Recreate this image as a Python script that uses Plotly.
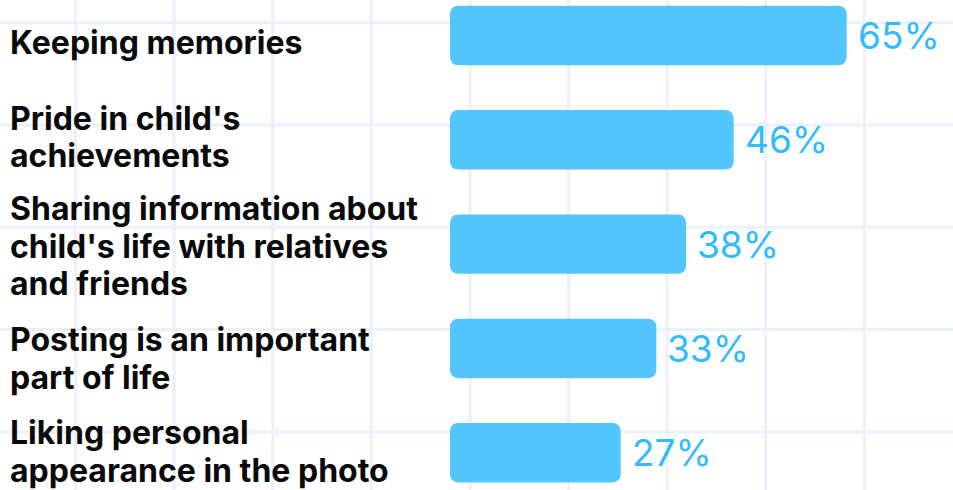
import plotly.graph_objects as go

# Survey: reasons parents post photos of their children
categories = [
    "Keeping memories",
    "Pride in child's<br>achievements",
    "Sharing information about<br>child's life with relatives<br>and friends",
    "Posting is an important<br>part of life",
    "Liking personal<br>appearance in the photo",
]
values = [65, 46, 38, 33, 27]
value_labels = ["65%", "46%", "38%", "33%", "27%"]

W, H = 953, 490
BAR_COLOR = "#53C6FF"
LABEL_COLOR = "#33BBFF"
GRID_COLOR = "#EAF1FC"
BAR_BASE = -1.7          # bars start slightly left of the zero point
LINE_PITCH = 37.5        # px between lines of a category label

# fine vertical nudges of the category text blocks (px, positive = up)
label_shift = [-7, 3, -2, -10, 1]

positions = list(range(len(values)))

fig = go.Figure(
    go.Bar(
        x=[v - BAR_BASE for v in values],
        y=positions,
        orientation="h",
        base=BAR_BASE,
        width=0.57,
        marker=dict(color=BAR_COLOR, line=dict(width=0)),
        hoverinfo="skip",
    )
)

# graph-paper background
shapes = []
x0, dx = 75.5, 98.6
while x0 < W:
    shapes.append(dict(type="line", xref="paper", yref="paper",
                       x0=x0 / W, x1=x0 / W, y0=0, y1=1,
                       line=dict(color=GRID_COLOR, width=3), layer="below"))
    x0 += dx
y0, dy = 22.7, 102.3
while y0 < H:
    shapes.append(dict(type="line", xref="paper", yref="paper",
                       x0=0, x1=1, y0=1 - y0 / H, y1=1 - y0 / H,
                       line=dict(color=GRID_COLOR, width=3), layer="below"))
    y0 += dy

annotations = []
for i, (cat, shift) in enumerate(zip(categories, label_shift)):
    lines = cat.split("<br>")
    n = len(lines)
    for k, line in enumerate(lines):
        annotations.append(dict(
            x=8 / W, xref="paper", xanchor="left",
            y=i, yref="y", yanchor="middle",
            yshift=shift - (k - (n - 1) / 2) * LINE_PITCH,
            text=line, showarrow=False, align="left",
            font=dict(family="Inter", size=32, color="#0A0A0A", weight=700),
        ))
for i, (v, lab) in enumerate(zip(values, value_labels)):
    annotations.append(dict(
        x=v, xref="x", xanchor="left", xshift=9,
        y=i, yref="y", yanchor="middle",
        text=lab, showarrow=False,
        font=dict(family="Inter", size=37, color=LABEL_COLOR, weight=400),
    ))

fig.update_layout(
    width=W, height=H,
    margin=dict(l=0, r=0, t=0, b=0),
    paper_bgcolor="white", plot_bgcolor="rgba(0,0,0,0)",
    barcornerradius=8,
    showlegend=False,
    shapes=shapes,
    annotations=annotations,
    xaxis=dict(range=[-77.37, 82.88], visible=False, fixedrange=True),
    yaxis=dict(range=[4.3576, -0.3404], visible=False, fixedrange=True),
)

fig.write_html("out.html", config={"displayModeBar": False})
